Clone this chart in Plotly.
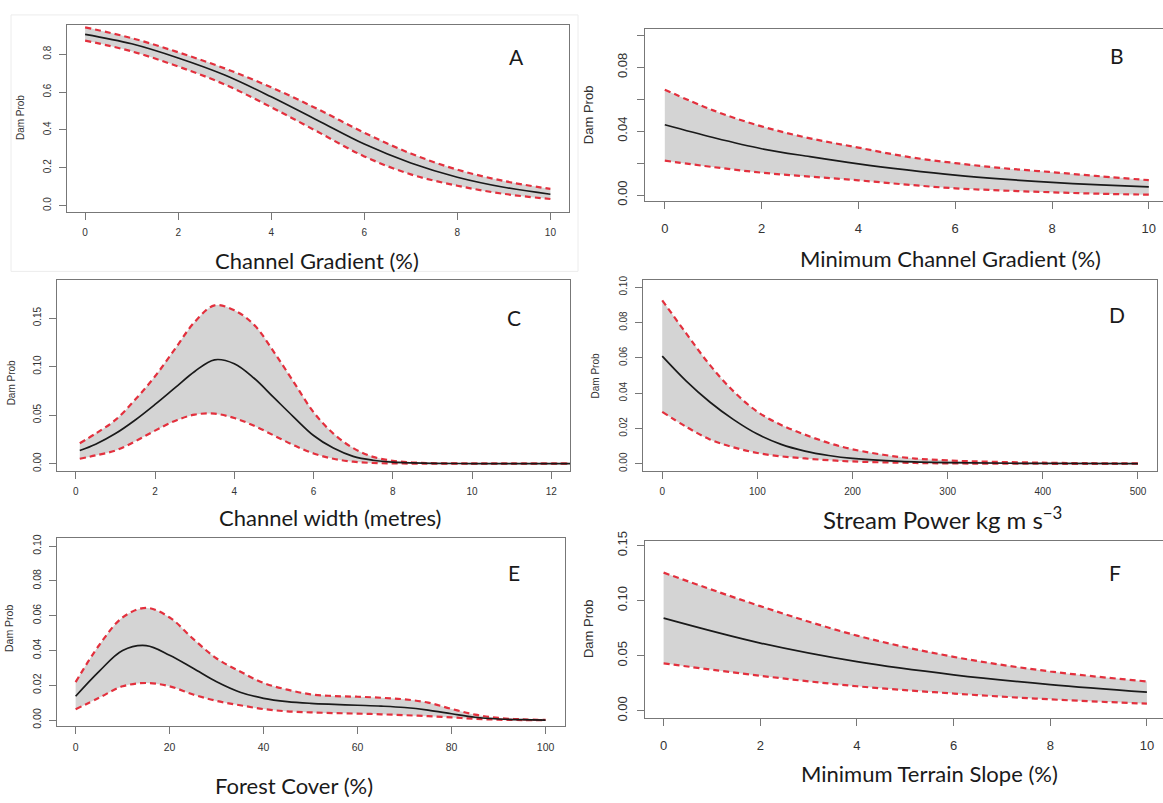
import plotly.graph_objects as go

W, H = 1163, 803

# ---------------- data ----------------
A_x = [0, 1, 2, 3, 4, 5, 6, 7, 8, 9, 10]
A_mean = [0.905, 0.855, 0.78, 0.69, 0.575, 0.45, 0.325, 0.225, 0.15, 0.097, 0.06]
A_upper = [0.942, 0.885, 0.81, 0.725, 0.625, 0.51, 0.385, 0.275, 0.19, 0.13, 0.088]
A_lower = [0.872, 0.815, 0.735, 0.64, 0.52, 0.39, 0.26, 0.165, 0.105, 0.062, 0.035]

B_x = [0, 1, 2, 3, 4, 5, 6, 7, 8, 9, 10]
B_mean = [0.044, 0.036, 0.029, 0.024, 0.0195, 0.0157, 0.0124, 0.0099, 0.0079, 0.0063, 0.0051]
B_upper = [0.066, 0.053, 0.043, 0.0355, 0.0297, 0.024, 0.020, 0.0168, 0.0143, 0.0117, 0.0093]
B_lower = [0.0215, 0.0175, 0.014, 0.0115, 0.0092, 0.0065, 0.0042, 0.0028, 0.0017, 0.0008, 0.0002]

C_x = [0.1, 0.5, 1, 1.5, 2, 2.5, 3, 3.5, 4, 4.5, 5, 5.5, 6, 6.5, 7, 7.5, 8, 8.5, 9, 10, 11, 12.5]
C_mean = [0.0135, 0.02, 0.031, 0.045, 0.061, 0.078, 0.095, 0.107, 0.103, 0.088, 0.068, 0.048,
          0.029, 0.016, 0.0075, 0.0035, 0.0015, 0.0007, 0.0003, 0.0001, 0.0, 0.0]
C_upper = [0.021, 0.031, 0.045, 0.066, 0.09, 0.118, 0.146, 0.163, 0.158, 0.143, 0.115, 0.084,
           0.053, 0.031, 0.016, 0.007, 0.003, 0.0012, 0.0005, 0.0001, 0.0, 0.0]
C_lower = [0.005, 0.0085, 0.0135, 0.023, 0.034, 0.044, 0.0505, 0.0515, 0.047, 0.039, 0.029, 0.019,
           0.0105, 0.005, 0.002, 0.0007, 0.0002, 0.0001, 0.0, 0.0, 0.0, 0.0]

D_x = [0, 25, 50, 75, 100, 125, 150, 175, 200, 250, 300, 400, 500]
D_mean = [0.061, 0.047, 0.035, 0.025, 0.0168, 0.011, 0.0072, 0.0047, 0.003, 0.0013, 0.0006, 0.0002, 0.0001]
D_upper = [0.0926, 0.074, 0.056, 0.041, 0.0295, 0.022, 0.0165, 0.0118, 0.0082, 0.0038, 0.0019, 0.0006, 0.0002]
D_lower = [0.0294, 0.021, 0.0138, 0.0093, 0.0061, 0.0042, 0.003, 0.002, 0.0013, 0.0006, 0.0002, 0.0, 0.0]

E_x = [0, 5, 10, 15, 20, 25, 30, 35, 40, 45, 50, 55, 60, 65, 70, 75, 80, 85, 90, 95, 100]
E_mean = [0.0137, 0.028, 0.040, 0.0428, 0.0373, 0.0298, 0.022, 0.016, 0.0125, 0.0106, 0.0096,
          0.009, 0.0085, 0.008, 0.0072, 0.0057, 0.0036, 0.0016, 0.0006, 0.0002, 0.0]
E_upper = [0.0218, 0.043, 0.059, 0.0645, 0.059, 0.0467, 0.0354, 0.0279, 0.0213, 0.0175, 0.0148,
           0.0138, 0.0134, 0.0128, 0.0119, 0.010, 0.0064, 0.0031, 0.0012, 0.0004, 0.0001]
E_lower = [0.0062, 0.0128, 0.0194, 0.0213, 0.0194, 0.0147, 0.011, 0.0085, 0.0063, 0.005, 0.0044,
           0.004, 0.0037, 0.0033, 0.0028, 0.0022, 0.0015, 0.0007, 0.0002, 0.0, 0.0]

F_x = [0, 2, 4, 6, 8, 10]
F_mean = [0.0841, 0.0615, 0.0446, 0.0327, 0.0238, 0.0169]
F_upper = [0.1254, 0.095, 0.0683, 0.049, 0.0357, 0.0267]
F_lower = [0.0431, 0.0318, 0.0223, 0.0157, 0.0104, 0.0065]

A_xticks = [0, 2, 4, 6, 8, 10]
A_yticks = [0.0, 0.2, 0.4, 0.6, 0.8]
A_ylabels = ["0.0", "0.2", "0.4", "0.6", "0.8"]
B_yticks = [0.0, 0.04, 0.08]
B_ylabels = ["0.00", "0.04", "0.08"]
C_xticks = [0, 2, 4, 6, 8, 10, 12]
C_yticks = [0.0, 0.05, 0.10, 0.15]
C_ylabels = ["0.00", "0.05", "0.10", "0.15"]
D_xticks = [0, 100, 200, 300, 400, 500]
D_yticks = [0.0, 0.02, 0.04, 0.06, 0.08, 0.10]
D_ylabels = ["0.00", "0.02", "0.04", "0.06", "0.08", "0.10"]
E_xticks = [0, 20, 40, 60, 80, 100]

titles = ["Channel Gradient (%)", "Minimum Channel Gradient (%)", "Channel width (metres)",
          "Stream Power kg m s<sup>−3</sup>", "Forest Cover (%)", "Minimum Terrain Slope (%)"]
letters = ["A", "B", "C", "D", "E", "F"]

# ---------------- layout geometry (pixels) ----------------
panels = [
    dict(x=A_x, m=A_mean, u=A_upper, l=A_lower, px=(66.5, 569), py=(15.7, 206),
         xr=[-0.4, 10.4], yr=[-0.036, 0.952], xt=A_xticks, yt=A_yticks, yl=A_ylabels, minor=None,
         fs=10, mirror_y=True, title_xy=(317, 255), tfs=22, letter_xy=(516, 47), ylab_xy=(20, 110)),
    dict(x=B_x, m=B_mean, u=B_upper, l=B_lower, px=(645, 1163), py=(19.3, 194.8),
         xr=[-0.409, 10.293], yr=[-0.004, 0.104], xt=A_xticks, yt=B_yticks, yl=B_ylabels, minor=0.02,
         fs=13, mirror_y=False, title_xy=(950, 253), tfs=22, letter_xy=(1117, 46), ylab_xy=(588, 107)),
    dict(x=C_x, m=C_mean, u=C_upper, l=C_lower, px=(56.8, 570.3), py=(275, 469),
         xr=[-0.48, 12.48], yr=[-0.0074, 0.189], xt=C_xticks, yt=C_yticks, yl=C_ylabels, minor=None,
         fs=10, mirror_y=True, title_xy=(330, 517), tfs=22, letter_xy=(514, 313), ylab_xy=(11, 380)),
    dict(x=D_x, m=D_mean, u=D_upper, l=D_lower, px=(643.2, 1157), py=(275, 469),
         xr=[-20, 520], yr=[-0.004, 0.104], xt=D_xticks, yt=D_yticks, yl=D_ylabels, minor=None,
         fs=10, mirror_y=True, title_xy=(942, 517), tfs=24, letter_xy=(1117, 310), ylab_xy=(595, 373)),
    dict(x=E_x, m=E_mean, u=E_upper, l=E_lower, px=(57.3, 565.3), py=(537, 729),
         xr=[-3.9, 104.2], yr=[-0.0036, 0.1049], xt=E_xticks, yt=D_yticks, yl=D_ylabels, minor=None,
         fs=10.5, mirror_y=True, title_xy=(294, 789), tfs=22, letter_xy=(514, 572), ylab_xy=(9, 630)),
    dict(x=F_x, m=F_mean, u=F_upper, l=F_lower, px=(645, 1163), py=(540, 721),
         xr=[-0.385, 10.333], yr=[-0.0069, 0.1545], xt=A_xticks, yt=C_yticks, yl=C_ylabels, minor=None,
         fs=13, mirror_y=False, title_xy=(929, 777), tfs=22, letter_xy=(1115, 572), ylab_xy=(588, 630)),
]

FRAME = "#777777"
RED = "#e3303d"
FILL = "#d4d4d4"
TICKFONT = "Liberation Sans Narrow, Liberation Sans, Arial, sans-serif"
TITLEFONT = "Lato, Open Sans, sans-serif"
DASH = "6px,4px"

fig = go.Figure()
layout = dict(width=W, height=H, margin=dict(l=0, r=0, t=0, b=0),
              paper_bgcolor="white", plot_bgcolor="white", showlegend=False)
annotations = []

for i, p in enumerate(panels):
    k = "" if i == 0 else str(i + 1)
    xa, ya = "x" + k, "y" + k
    fig.add_trace(go.Scatter(x=p["x"], y=p["l"], xaxis=xa, yaxis=ya, mode="lines",
                             line=dict(color=RED, width=2.2, dash=DASH, shape="spline", smoothing=1),
                             hoverinfo="skip"))
    fig.add_trace(go.Scatter(x=p["x"], y=p["u"], xaxis=xa, yaxis=ya, mode="lines",
                             fill="tonexty", fillcolor=FILL,
                             line=dict(color=RED, width=2.2, dash=DASH, shape="spline", smoothing=1),
                             hoverinfo="skip"))
    fig.add_trace(go.Scatter(x=p["x"], y=p["m"], xaxis=xa, yaxis=ya, mode="lines",
                             line=dict(color="#1a1a1a", width=1.7, shape="spline", smoothing=1)))

    x0, x1 = p["px"]
    y0, y1 = p["py"]
    fs = p["fs"]
    layout["xaxis" + k] = dict(
        domain=[x0 / W, min(x1 / W, 1.0)], range=p["xr"], anchor=ya,
        showline=True, linecolor=FRAME, linewidth=1, mirror=True,
        ticks="outside", ticklen=7, tickcolor=FRAME, tickwidth=1,
        tickvals=p["xt"], ticktext=[str(v) for v in p["xt"]],
        tickfont=dict(family=TICKFONT, size=fs, color="#333333"),
        ticklabelstandoff=4 if fs < 12 else 8,
        showgrid=False, zeroline=False)
    yax = dict(
        domain=[1 - y1 / H, 1 - y0 / H], range=p["yr"], anchor=xa,
        showline=True, linecolor=FRAME, linewidth=1, mirror=p["mirror_y"],
        ticks="outside", ticklen=7, tickcolor=FRAME, tickwidth=1,
        tickvals=p["yt"], ticktext=p["yl"], tickangle=-90,
        tickfont=dict(family=TICKFONT, size=fs, color="#333333"),
        ticklabelstandoff=4 if fs < 12 else 5,
        showgrid=False, zeroline=False)
    if p["minor"]:
        yax["minor"] = dict(tick0=0, dtick=p["minor"], ticks="outside", ticklen=7,
                            tickcolor=FRAME, tickwidth=1, showgrid=False)
    layout["yaxis" + k] = yax

    tx, ty = p["title_xy"]
    annotations.append(dict(text=titles[i], x=tx / W, y=1 - ty / H, xref="paper", yref="paper",
                            xanchor="center", yanchor="middle", showarrow=False,
                            font=dict(family=TITLEFONT, size=p["tfs"], color="#1a1a1a")))
    lx, ly = p["letter_xy"]
    annotations.append(dict(text=letters[i], x=lx / W, y=1 - ly / H, xref="paper", yref="paper",
                            xanchor="center", yanchor="middle", showarrow=False,
                            font=dict(family=TITLEFONT, size=21, color="#1a1a1a")))
    yx, yy = p["ylab_xy"]
    annotations.append(dict(text="Dam Prob", x=yx / W, y=1 - yy / H, xref="paper", yref="paper",
                            xanchor="center", yanchor="middle", showarrow=False, textangle=-90,
                            font=dict(family=TICKFONT, size=fs, color="#333333")))

layout["annotations"] = annotations
layout["shapes"] = [dict(type="rect", xref="paper", yref="paper",
                         x0=11 / W, x1=578 / W, y0=1 - 266 / H, y1=1 - 5 / H,
                         line=dict(color="#ececec", width=1), layer="below")]
fig.update_layout(**layout)
fig.write_html("out.html", config={"displayModeBar": False},
               post_script="document.body.style.margin='0px';document.body.style.overflow='hidden';")
